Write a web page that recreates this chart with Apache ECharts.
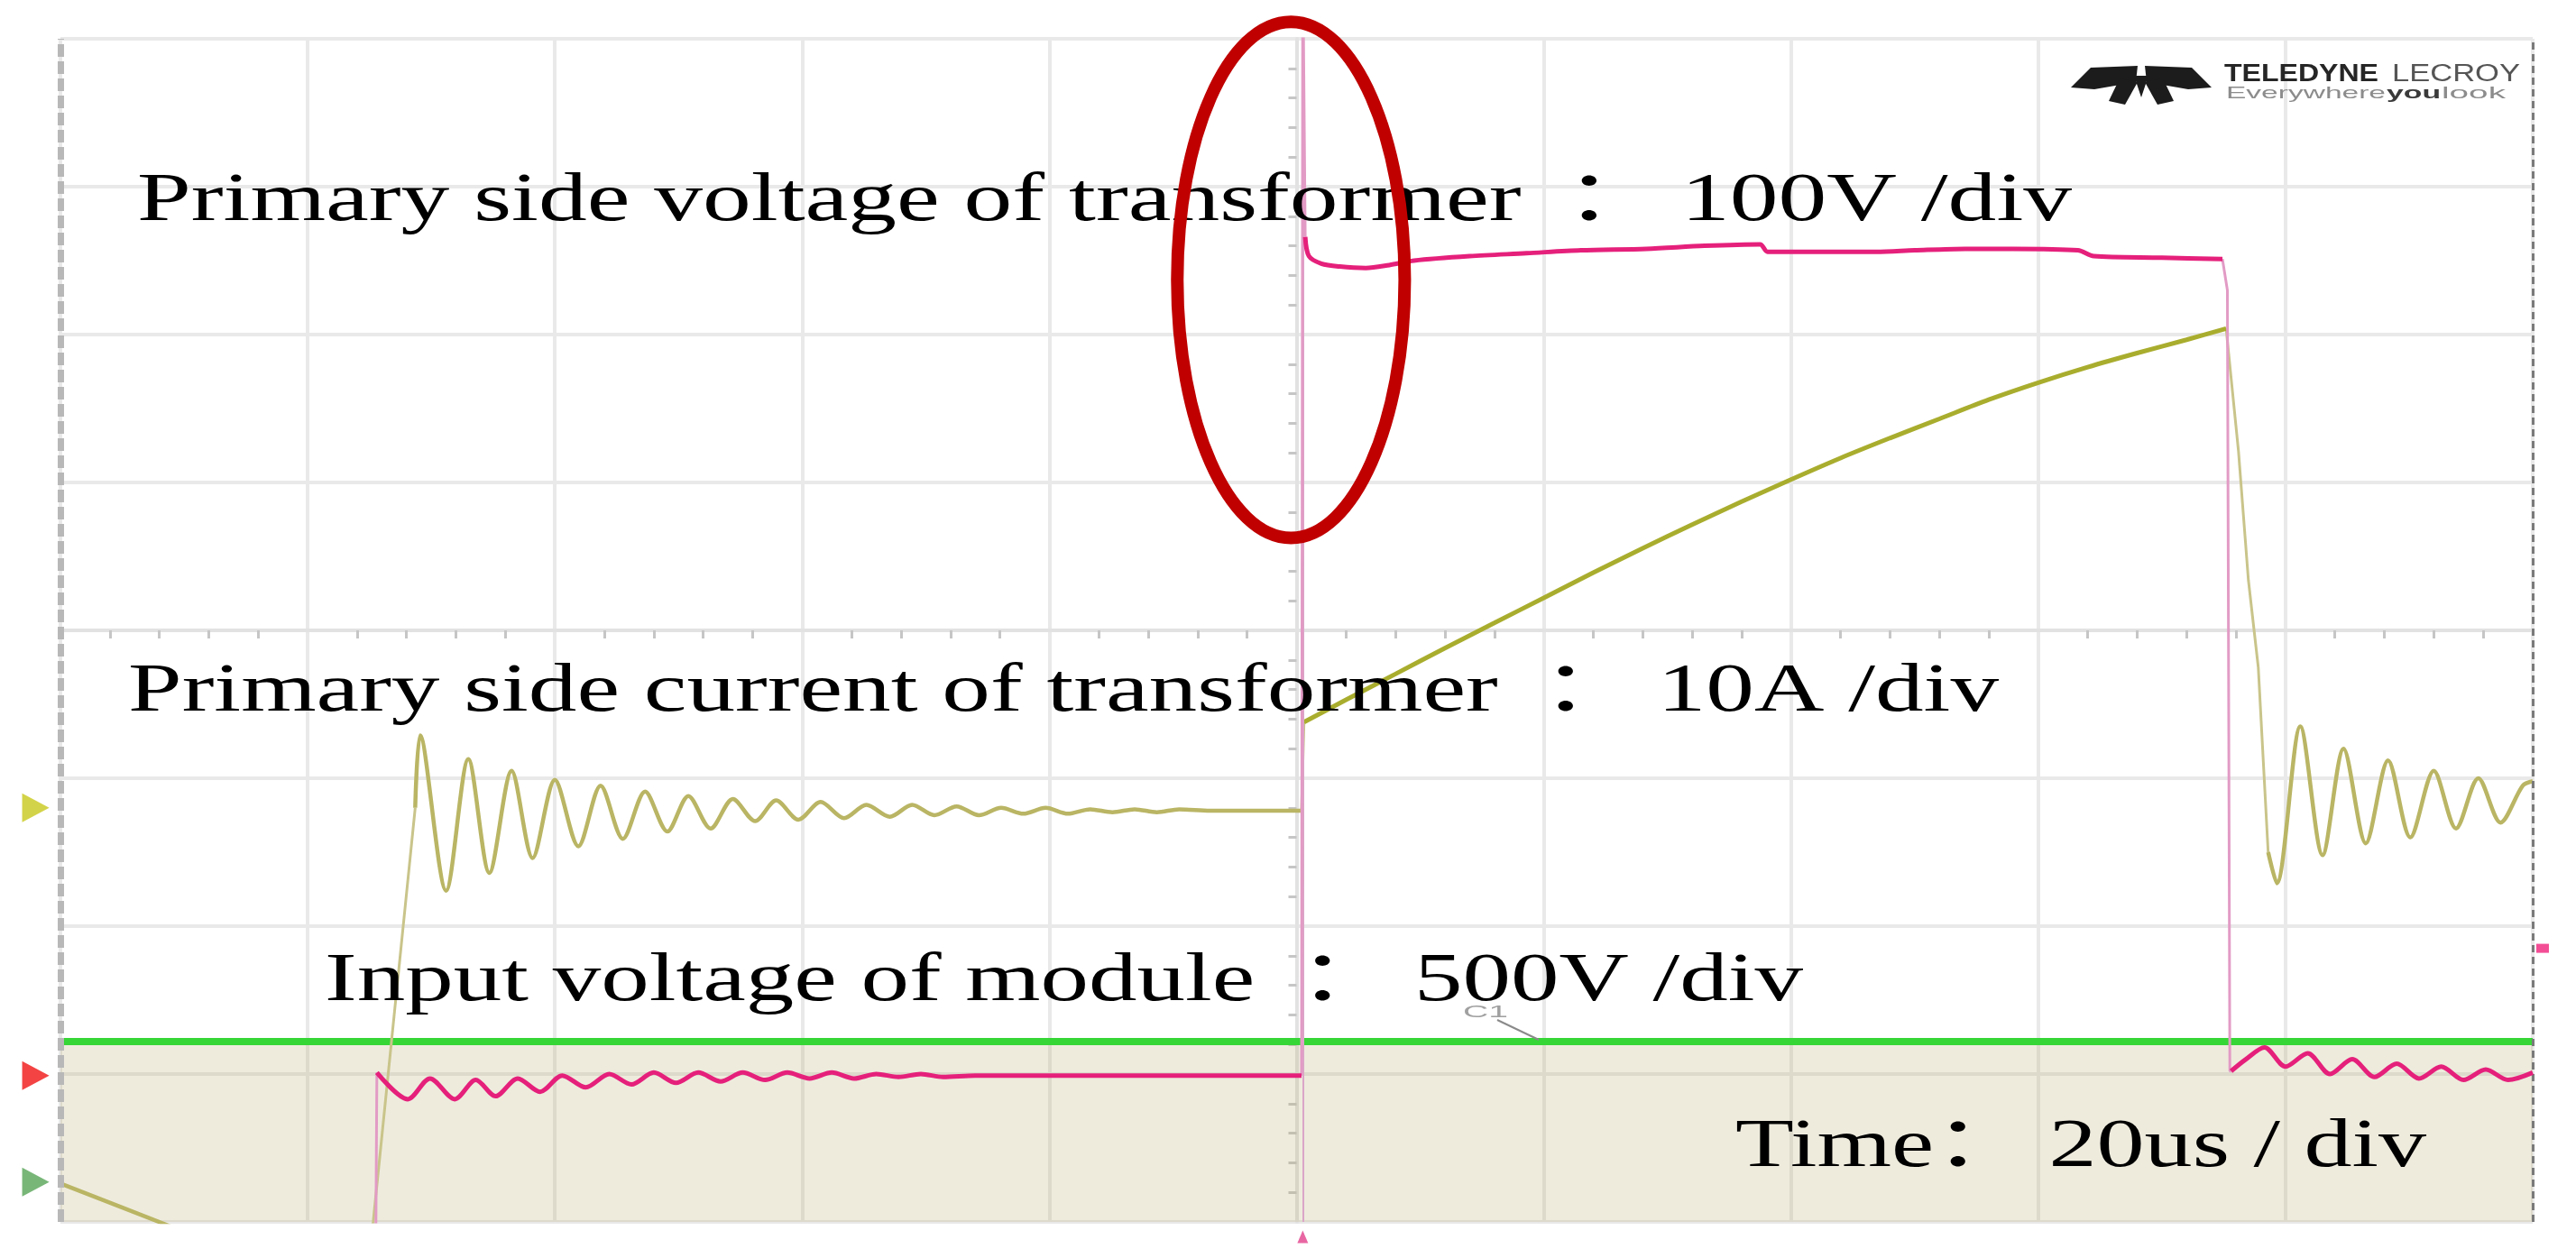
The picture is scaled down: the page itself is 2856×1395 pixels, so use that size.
<!DOCTYPE html>
<html>
<head>
<meta charset="utf-8">
<title>Transformer switching waveforms</title>
<script src="https://cdn.jsdelivr.net/npm/echarts@6/dist/echarts.min.js"></script>
<style>
  html, body { margin: 0; padding: 0; background: #fff; }
  #scope { width: 2856px; height: 1395px; }
</style>
</head>
<body>
<div id="scope"></div>
<script>
// x: time in us (20us/div, trigger at centre), y: screen divisions (-4 .. 4)
const timeRange = [-100, 100];
const divRange = [-4, 4];

// input voltage of module (green, 500V/div)
const inputVoltage = [[-100, -2.78], [100, -2.78]];

// primary side current (yellow, 10A/div)
const currentLeadIn = [[-100, -3.74], [-91.4, -4.02], [-86, -4.2]];
const currentRingOn = [
  [-71.3, -1.2], [-70.9, -0.71], [-68.8, -1.76], [-67.0, -0.87], [-65.3, -1.64], [-63.5, -0.95],
  [-61.8, -1.54], [-60.0, -1.01], [-58.1, -1.46], [-56.3, -1.05], [-54.5, -1.41], [-52.7, -1.09],
  [-50.9, -1.36], [-49.2, -1.12], [-47.4, -1.34], [-45.6, -1.14], [-43.8, -1.29], [-42.1, -1.15],
  [-40.3, -1.28], [-38.5, -1.16], [-36.6, -1.27], [-34.8, -1.18], [-32.9, -1.26], [-31.1, -1.18],
  [-29.3, -1.25], [-27.5, -1.19], [-25.7, -1.25], [-23.9, -1.20], [-22.1, -1.24], [-20.3, -1.20],
  [-18.5, -1.24], [-16.7, -1.21], [-14.9, -1.23], [-13.1, -1.21], [-11.3, -1.23], [-9.5, -1.21],
  [-7, -1.22], [-3, -1.22], [0.4, -1.22]
];
const currentRamp = [
  [0.6, -0.62], [4, -0.47], [8, -0.295], [12, -0.12], [16, 0.05], [20, 0.22], [24, 0.39],
  [28, 0.555], [32, 0.715], [36, 0.87], [40, 1.02], [44, 1.165], [48, 1.30], [52, 1.43],
  [56, 1.56], [60, 1.675], [64, 1.78], [68, 1.875], [72, 1.965], [75.2, 2.04]
];
const currentRingOff = [
  [78.6, -1.5], [79.3, -1.71], [81.2, -0.65], [83.0, -1.52], [84.7, -0.80], [86.5, -1.44],
  [88.3, -0.88], [90.1, -1.40], [92.0, -0.95], [93.8, -1.34], [95.6, -1.00], [97.4, -1.30],
  [99.2, -1.05], [100, -1.02]
];
const currentRise = [[-75.2, -4.3], [-74.7, -4.0], [-71.3, -1.2]];
const currentStep = [[0.4, -1.22], [0.6, -0.62]];
const currentFall = [[75.2, 2.04], [76.2, 1.21], [77.0, 0.34], [77.8, -0.25], [78.6, -1.5]];

// primary side voltage (pink, 100V/div)
const voltageLow = [
  [-74.4, -2.99], [-71.9, -3.17], [-70.1, -3.03], [-68.1, -3.17], [-66.4, -3.04], [-64.8, -3.15],
  [-63.0, -3.03], [-61.2, -3.12], [-59.4, -3.01], [-57.5, -3.09], [-55.6, -3.00], [-53.8, -3.07],
  [-52.0, -2.99], [-50.2, -3.06], [-48.4, -2.99], [-46.6, -3.05], [-44.8, -2.99], [-43.0, -3.04],
  [-41.2, -2.99], [-39.4, -3.03], [-37.6, -2.99], [-35.8, -3.03], [-34.0, -3.00], [-32.2, -3.02],
  [-30.4, -3.00], [-28.6, -3.02], [-26.0, -3.01], [-20, -3.01], [-10, -3.01], [0.4, -3.01]
];
const voltageHigh = [
  [0.7, 2.66], [1.0, 2.53], [2.0, 2.48], [3.5, 2.46], [5.6, 2.45], [7.5, 2.47], [9.5, 2.50],
  [14, 2.53], [18.6, 2.55], [23, 2.57], [28.3, 2.58], [33, 2.60], [37.5, 2.61], [38.1, 2.56],
  [42, 2.56], [46.9, 2.56], [50, 2.57], [54.1, 2.58], [58, 2.58], [63.2, 2.57], [64.5, 2.53],
  [70, 2.52], [74.9, 2.51]
];
const voltageRingOff = [
  [75.6, -2.98], [76.8, -2.90], [78.3, -2.82], [80.0, -2.95], [81.8, -2.86], [83.6, -3.00],
  [85.4, -2.90], [87.2, -3.02], [89.0, -2.93], [90.8, -3.03], [92.6, -2.95], [94.4, -3.04],
  [96.2, -2.97], [98.0, -3.04], [100, -2.99]
];
const voltageRise = [[-74.5, -4.3], [-74.4, -2.99]];
const voltageSpike = [[0.4, -3.01], [0.5, 4.6], [0.7, 2.66]];
const voltageFall = [[74.9, 2.51], [75.3, 2.3], [75.5, -2.98], [75.6, -2.98]];

// channel reference markers and trigger marks
const currentRef = [[-102, -1.2]];
const voltageRef = [[-102, -3.01]];
const inputRef = [[-102, -3.73]];
const triggerLevel = [[100.8, -2.15]];
const triggerTime = [[0.5, -4.1]];
const triggerLine = [0.5];

const captions = [
  'Primary side voltage of transformer \u2009：\u2009100V /div',
  'Primary side current of transformer \u2009：\u200910A /div',
  'Input voltage of module \u2009：\u2009500V /div',
  'Time：\u200920us / div'
];

const GAP = ['-', '-'];
const joinSegments = (segs) => segs.reduce((acc, s, i) => acc.concat(i ? [GAP] : [], s), []);

const serif = '"Liberation Serif", "Times New Roman", "Noto Sans CJK SC", serif';
const narrow = '"Liberation Sans Narrow", "Liberation Sans", sans-serif';
const measureCtx = document.createElement('canvas').getContext('2d');

// text squeezed/stretched to sit exactly between left and right, on the given baseline
function fitText(str, left, right, baseline, size, family, fill, weight, z) {
  const font = `${weight || 'normal'} ${size}px ${family}`;
  measureCtx.font = font;
  measureCtx.textBaseline = 'middle';
  const m = measureCtx.measureText(str);
  const drop = m.alphabeticBaseline !== undefined ? Math.abs(m.alphabeticBaseline) : size * 0.33;
  return {
    type: 'text',
    x: left,
    y: baseline - drop,
    scaleX: (right - left) / m.width,
    z: z || 50,
    silent: true,
    style: {
      text: str, font: font, fill: fill,
      textAlign: 'left', align: 'left',
      textVerticalAlign: 'middle', verticalAlign: 'middle'
    }
  };
}

const chart = echarts.init(document.getElementById('scope'));

const axisCommon = {
  type: 'value',
  axisLabel: { show: false },
  axisTick: { show: false },
  axisLine: { show: true, onZero: true, lineStyle: { color: '#e2e2e2', width: 4 } },
  minorTick: { show: true, splitNumber: 5, length: 9, lineStyle: { color: '#c6c6c6', width: 3 } },
  splitLine: { show: true, lineStyle: { color: '#e9e9e9', width: 4 } }
};

const option = {
  backgroundColor: '#ffffff',
  animation: false,
  grid: { left: 67, right: 48, top: 43, bottom: 40 },
  xAxis: Object.assign({}, axisCommon, { min: timeRange[0], max: timeRange[1], interval: 20 }),
  yAxis: Object.assign({}, axisCommon, { min: divRange[0], max: divRange[1], interval: 1 }),
  series: [
    {
      name: 'Input voltage of module',
      type: 'line',
      data: inputVoltage,
      symbol: 'none',
      z: 2,
      lineStyle: { color: '#36d636', width: 8 },
      areaStyle: { color: 'rgba(186,174,114,0.35)', origin: 'start' },
      markLine: {
        silent: true,
        symbol: 'none',
        label: { show: false },
        data: [
          { xAxis: timeRange[0], lineStyle: { color: '#b8b8b8', width: 7, type: [14, 5] } },
          { xAxis: timeRange[1], lineStyle: { color: '#7a7a7a', width: 3, type: [8, 5] } },
          { xAxis: triggerLine[0], lineStyle: { color: '#dba6c7', width: 2, type: 'solid' } }
        ]
      }
    },
    {
      name: 'current edges',
      type: 'line',
      data: joinSegments([currentRise, currentStep, currentFall]),
      symbol: 'none',
      z: 3,
      lineStyle: { color: '#c9c48a', width: 3 }
    },
    {
      name: 'current ringing',
      type: 'line',
      data: joinSegments([currentLeadIn, currentRingOn, currentRingOff]),
      symbol: 'none',
      smooth: 0.3,
      z: 4,
      lineStyle: { color: '#b9b564', width: 4.5 }
    },
    {
      name: 'Primary side current of transformer',
      type: 'line',
      data: currentRamp,
      symbol: 'none',
      smooth: 0.3,
      z: 4,
      lineStyle: { color: '#a9ad2e', width: 5 }
    },
    {
      name: 'voltage edges',
      type: 'line',
      data: joinSegments([voltageRise, voltageSpike, voltageFall]),
      symbol: 'none',
      z: 5,
      lineStyle: { color: '#e29bc5', width: 3 }
    },
    {
      name: 'Primary side voltage of transformer',
      type: 'line',
      data: joinSegments([voltageLow, voltageHigh, voltageRingOff]),
      symbol: 'none',
      smooth: 0.3,
      z: 6,
      lineStyle: { color: '#e5207b', width: 5 }
    },
    {
      type: 'scatter', data: currentRef, clip: false, z: 8, silent: true,
      symbol: 'triangle', symbolRotate: -90, symbolSize: [32, 30],
      itemStyle: { color: '#c8c81c' }
    },
    {
      type: 'scatter', data: voltageRef, clip: false, z: 8, silent: true,
      symbol: 'triangle', symbolRotate: -90, symbolSize: [32, 30],
      itemStyle: { color: '#f01414' }
    },
    {
      type: 'scatter', data: inputRef, clip: false, z: 8, silent: true,
      symbol: 'triangle', symbolRotate: -90, symbolSize: [32, 30],
      itemStyle: { color: '#56a456' }
    },
    {
      type: 'scatter', data: triggerLevel, clip: false, z: 8, silent: true,
      symbol: 'rect', symbolSize: [14, 10],
      itemStyle: { color: '#f0207a' }
    },
    {
      type: 'scatter', data: triggerTime, clip: false, z: 8, silent: true,
      symbol: 'triangle', symbolSize: [12, 14],
      itemStyle: { color: '#e2418c' }
    }
  ]
};

chart.setOption(option);

// red ellipse around the turn-on overshoot, placed in data coordinates
const ringCentre = chart.convertToPixel({ gridIndex: 0 }, [-0.45, 2.37]);
const ringEdge = chart.convertToPixel({ gridIndex: 0 }, [-0.45 + 9.2, 2.37 + 1.745]);

const logoFill = '#1c1c1c';
const graphics = [
  fitText(captions[0], 152, 2297, 244, 77, serif, '#000'),
  fitText(captions[1], 142, 2216, 788, 77, serif, '#000'),
  fitText(captions[2], 360, 1999, 1109, 77, serif, '#000'),
  fitText(captions[3], 1924, 2690, 1293, 77, serif, '#000'),
  {
    type: 'ellipse',
    z: 60,
    silent: true,
    shape: {
      cx: ringCentre[0], cy: ringCentre[1],
      rx: Math.abs(ringEdge[0] - ringCentre[0]), ry: Math.abs(ringCentre[1] - ringEdge[1])
    },
    style: { fill: 'none', stroke: '#c00000', lineWidth: 14 }
  },
  // oscilloscope maker logo
  { type: 'polygon', z: 40, silent: true, shape: { points: [[2296, 97], [2318, 75], [2370, 73], [2368, 91], [2322, 99]] }, style: { fill: logoFill } },
  { type: 'polygon', z: 40, silent: true, shape: { points: [[2452, 97], [2430, 75], [2378, 73], [2380, 91], [2426, 99]] }, style: { fill: logoFill } },
  { type: 'polygon', z: 40, silent: true, shape: { points: [[2350, 87], [2370, 91], [2356, 116], [2338, 112]] }, style: { fill: logoFill } },
  { type: 'polygon', z: 40, silent: true, shape: { points: [[2398, 87], [2378, 91], [2392, 116], [2410, 112]] }, style: { fill: logoFill } },
  { type: 'polygon', z: 40, silent: true, shape: { points: [[2366, 84], [2382, 84], [2374, 108]] }, style: { fill: logoFill } },
  fitText('TELEDYNE', 2466, 2637, 90, 27, narrow, '#262626', 'bold', 40),
  fitText('LECROY', 2652, 2794, 90, 27, narrow, '#555555', 'normal', 40),
  fitText('Everywhere', 2468, 2645, 109, 19, narrow, '#8c8c8c', 'normal', 40),
  fitText('you', 2646, 2706, 109, 19, narrow, '#3a3a3a', 'bold', 40),
  fitText('look', 2707, 2778, 109, 19, narrow, '#8c8c8c', 'normal', 40),
  // small channel tag near the input voltage trace
  fitText('C1', 1622, 1672, 1128, 18, narrow, '#a0a0a0', 'normal', 40),
  { type: 'line', z: 40, silent: true, shape: { x1: 1660, y1: 1131, x2: 1706, y2: 1153 }, style: { stroke: '#8a8a8a', lineWidth: 2 } }
];

chart.setOption({ graphic: graphics });
</script>
</body>
</html>
